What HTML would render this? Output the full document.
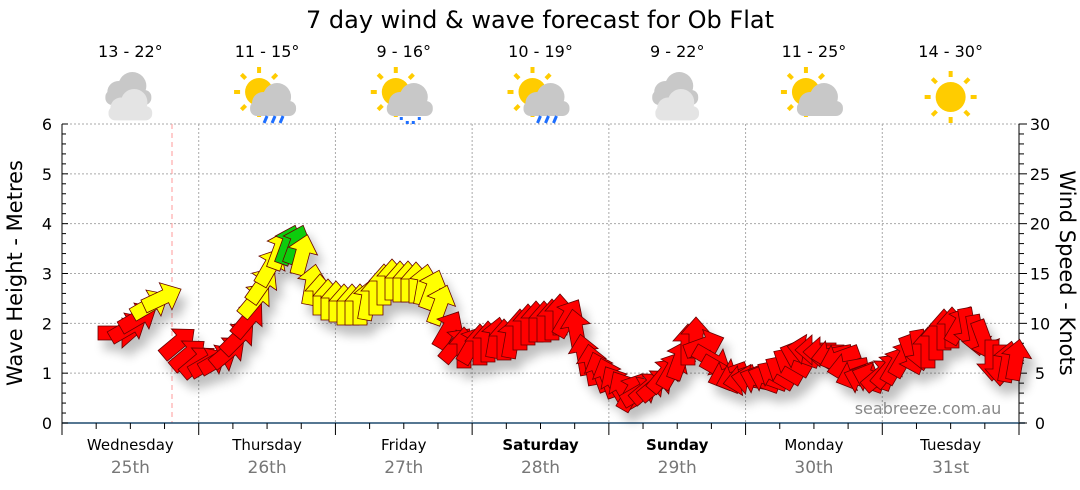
<!DOCTYPE html>
<html><head><meta charset="utf-8"><style>
html,body{margin:0;padding:0;background:#fff;}
svg{display:block;font-family:"DejaVu Sans","Liberation Sans",sans-serif;}
</style></head><body>
<svg id="s" width="1080" height="490" viewBox="0 0 1080 490" xmlns="http://www.w3.org/2000/svg">
<defs>
<filter id="sh" x="-20%" y="-20%" width="140%" height="160%"><feGaussianBlur in="SourceAlpha" stdDeviation="5"/><feOffset dx="6" dy="10"/><feComponentTransfer><feFuncA type="linear" slope="0.25"/></feComponentTransfer><feMerge><feMergeNode/><feMergeNode in="SourceGraphic"/></feMerge></filter>
</defs>
<text x="540" y="28" font-size="24" text-anchor="middle" fill="#000">7 day wind &amp; wave forecast for Ob Flat</text>
<g id="grid"></g>
<g id="icons"></g>
<g id="arrows" filter="url(#sh)"></g>
<text x="928" y="414" font-size="16" fill="#888" text-anchor="middle">seabreeze.com.au</text>
<text transform="translate(22,273) rotate(-90)" font-size="21" text-anchor="middle">Wave Height - Metres</text>
<text transform="translate(1060,273) rotate(90)" font-size="21" text-anchor="middle">Wind Speed - Knots</text>
</svg>
<script>
const NS="http://www.w3.org/2000/svg";
function el(p,t,a,txt){const e=document.createElementNS(NS,t);for(const k in a)e.setAttribute(k,a[k]);if(txt!==undefined)e.textContent=txt;p.appendChild(e);return e;}
const g=document.getElementById('grid');
const L=62,R=1019,T=124,B=423,ppm=(B-T)/6;
for(let i=1;i<=6;i++){const y=B-i*ppm;el(g,'line',{x1:L,x2:R,y1:y,y2:y,stroke:'#aaa','stroke-dasharray':'2,2'});}
const days=[["Wednesday","25th",0],["Thursday","26th",0],["Friday","27th",0],["Saturday","28th",1],["Sunday","29th",1],["Monday","30th",0],["Tuesday","31st",0]];
const dw=(R-L)/7;
for(let d=1;d<7;d++){const x=L+d*dw;el(g,'line',{x1:x,x2:x,y1:T,y2:B,stroke:'#aaa','stroke-dasharray':'2,2'});}
el(g,'line',{x1:172,x2:172,y1:T,y2:B,stroke:'#f99','stroke-dasharray':'5,4'});
el(g,'line',{x1:L,x2:L,y1:T,y2:B+10,stroke:'#000'});
el(g,'line',{x1:R,x2:R,y1:T,y2:B,stroke:'#000'});
el(g,'line',{x1:L,x2:R+6,y1:B,y2:B,stroke:'#1e4a6e','stroke-width':1.5});
for(let i=0;i<=30;i++){const y=B-i*ppm/5;const maj=i%5==0;
 el(g,'line',{x1:L,x2:L+(maj?6:4),y1:y,y2:y,stroke:'#000'});
 el(g,'line',{x1:R,x2:R+(maj?8:5),y1:y,y2:y,stroke:'#000'});
 if(maj){el(g,'text',{x:47,y:y+6,'font-size':16,'text-anchor':'middle'},i/5);
  el(g,'text',{x:1040,y:y+6,'font-size':16,'text-anchor':'middle'},i);}
}
for(let i=0;i<=28;i++){const x=L+i*dw/4;const maj=i%4==0;el(g,'line',{x1:x,x2:x,y1:B,y2:B+(maj?12:6),stroke:'#000'});}
days.forEach((d,i)=>{const cx=L+dw*(i+0.5);
 el(g,'text',{x:cx,y:450,'font-size':15,'text-anchor':'middle','font-weight':d[2]?'bold':'normal'},d[0]);
 el(g,'text',{x:cx,y:473,'font-size':17,'text-anchor':'middle',fill:'#777'},d[1]);});
const ic=document.getElementById('icons');
const temps=["13 - 22°","11 - 15°","9 - 16°","10 - 19°","9 - 22°","11 - 25°","14 - 30°"];
const types=["cloud2","sunrain","sundrizzle","sunrain","cloud2","suncloud","sun"];
function sun(cx,cy,r){for(let k=0;k<8;k++){const a=k*Math.PI/4;const px=cx+Math.cos(a)*(r+8),py=cy+Math.sin(a)*(r+8);el(ic,'rect',{x:px-2,y:py-3,width:4,height:6,fill:'#fc0',transform:`rotate(${k*45+90} ${px} ${py})`});}el(ic,'circle',{cx,cy,r,fill:'#fc0'});}
function cloud(cx,cy,c,s){s=s||1;el(ic,'circle',{cx:cx-10*s,cy:cy,r:11*s,fill:c});el(ic,'circle',{cx:cx+4*s,cy:cy-6*s,r:14*s,fill:c});el(ic,'rect',{x:cx-23*s,y:cy-2*s,width:46*s,height:15*s,rx:7*s,fill:c});}
types.forEach((t,i)=>{const cx=L+dw*(i+0.5)-2;
 el(ic,'text',{x:cx+2,y:57,'font-size':16,'text-anchor':'middle'},temps[i]);
 if(t=="cloud2"){cloud(cx,92,'#c8c8c8');cloud(cx+2,108,'#e4e4e4',0.95);}
 else if(t=="sun"){sun(cx+2,97,15);}
 else {sun(cx-6,92,14);cloud(cx+8,103,'#c8c8c8');
  if(t=="sunrain"){for(let k=0;k<3;k++)el(ic,'line',{x1:cx+2+k*8,y1:116,x2:cx-1+k*8,y2:123,stroke:'#1e6fff','stroke-width':3});}
  if(t=="sundrizzle"){[[0,117],[6,121],[12,121],[18,117]].forEach(p=>el(ic,'rect',{x:cx-2+p[0],y:p[1],width:3,height:3,fill:'#1e6fff'}));}
 }
});
const R_='#f00',Y='#ff0',G='#1c1';
const pts=[[118,333,0,R_],[128,328,-30,R_],[138,318,-30,R_],[150,305,-30,Y],[162,298,-25,Y],[178,343,-40,R_],[188,355,-40,R_],[198,362,-40,R_],[208,363,-30,R_],[218,360,-30,R_],[228,352,-40,R_],[238,338,-45,R_],[248,320,-50,R_],[255,300,-50,Y],[262,285,-55,Y],[270,267,-60,Y],[280,250,-70,Y],[288,245,-70,G],[296,245,-70,G],[302,255,-75,Y],[312,285,-80,Y],[320,295,-90,Y],[328,300,-90,Y],[336,302,-90,Y],[344,305,-90,Y],[352,305,-90,Y],[360,305,-90,Y],[368,300,-80,Y],[376,295,-90,Y],[384,285,-90,Y],[392,280,-90,Y],[400,282,-90,Y],[408,282,-90,Y],[416,283,-90,Y],[424,285,-80,Y],[432,290,-70,Y],[440,305,-70,Y],[448,330,-60,R_],[456,345,-50,R_],[464,348,-90,R_],[472,345,-60,R_],[480,345,-90,R_],[488,342,-90,R_],[496,338,-80,R_],[504,340,-90,R_],[512,338,-80,R_],[520,330,-90,R_],[528,325,-90,R_],[536,322,-90,R_],[544,322,-90,R_],[552,320,-90,R_],[560,315,-90,R_],[568,318,-60,R_],[576,330,-100,R_],[584,355,-100,R_],[592,365,-100,R_],[600,372,-110,R_],[608,378,-110,R_],[616,385,-120,R_],[624,390,-120,R_],[632,392,-60,R_],[640,392,-30,R_],[648,388,-40,R_],[656,385,-40,R_],[664,375,-50,R_],[672,370,-60,R_],[680,360,-70,R_],[688,345,-90,R_],[696,338,-90,R_],[704,345,-20,R_],[712,360,30,R_],[720,370,30,R_],[728,375,160,R_],[736,378,160,R_],[744,380,170,R_],[752,380,190,R_],[760,380,200,R_],[768,378,200,R_],[776,375,210,R_],[784,370,210,R_],[792,362,210,R_],[800,355,200,R_],[808,350,190,R_],[816,350,180,R_],[824,352,180,R_],[832,355,170,R_],[840,358,160,R_],[848,368,170,R_],[856,375,160,R_],[864,380,200,R_],[872,378,200,R_],[880,375,-40,R_],[888,370,-50,R_],[896,365,-60,R_],[904,358,-60,R_],[912,355,70,R_],[920,350,80,R_],[928,348,-90,R_],[936,340,-90,R_],[944,330,-90,R_],[952,328,-90,R_],[960,325,-60,R_],[968,328,80,R_],[976,335,80,R_],[984,340,70,R_],[992,360,90,R_],[1000,365,90,R_],[1008,362,-80,R_],[1016,360,-80,R_]];
const ar=document.getElementById('arrows');
const poly="-20,-7 4,-7 4,-15 21,0 4,15 4,7 -20,7";
pts.forEach(p=>el(ar,'polygon',{points:poly,fill:p[3],stroke:'#600','stroke-width':0.8,transform:`translate(${p[0]},${p[1]}) rotate(${p[2]})`}));
</script>
</body></html>
